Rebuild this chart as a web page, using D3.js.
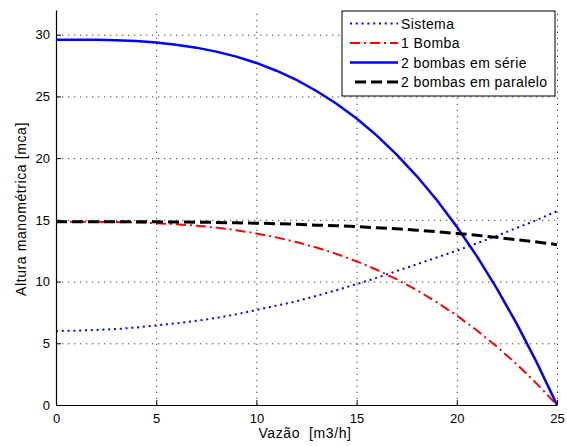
<!DOCTYPE html>
<html>
<head>
<meta charset="utf-8">
<script src="https://cdn.jsdelivr.net/npm/d3@7"></script>
<style>
body { margin: 0; background: #fff; }
text { font-family: "Liberation Sans", Arial, sans-serif; fill: #000; }
</style>
</head>
<body>
<script>
// vazao (m3/h)
var vazao = [0, 1, 2, 3, 4, 5, 6, 7, 8, 9, 10, 11, 12, 13, 14, 15, 16, 17, 18, 19, 20, 21, 22, 23, 24, 25];

// alturas (mca)
var sistema = [6.0, 6.02, 6.08, 6.15, 6.28, 6.45, 6.62, 6.82, 7.05, 7.35, 7.7, 8.05, 8.4, 8.85, 9.3, 9.8, 10.3, 10.85, 11.4, 11.95, 12.5, 13.1, 13.7, 14.35, 15.0, 15.7];
var umaBomba = [14.85, 14.85, 14.84, 14.82, 14.79, 14.73, 14.65, 14.53, 14.37, 14.16, 13.9, 13.58, 13.2, 12.76, 12.24, 11.64, 10.96, 10.19, 9.31, 8.33, 7.25, 6.05, 4.73, 3.29, 1.71, 0];
var serie = [29.6, 29.6, 29.58, 29.55, 29.48, 29.36, 29.19, 28.95, 28.63, 28.22, 27.71, 27.08, 26.33, 25.44, 24.4, 23.21, 21.84, 20.29, 18.55, 16.61, 14.44, 12.06, 9.43, 6.55, 3.41, 0];
var paralelo = [14.85, 14.85, 14.85, 14.85, 14.84, 14.84, 14.82, 14.81, 14.79, 14.76, 14.73, 14.69, 14.64, 14.57, 14.52, 14.45, 14.36, 14.27, 14.16, 14.04, 13.9, 13.75, 13.58, 13.39, 13.21, 12.99];

var xTicks = [0, 5, 10, 15, 20, 25];
var yTicks = [0, 5, 10, 15, 20, 25, 30];
var legendNames = ["Sistema", "1 Bomba", "2 bombas em série", "2 bombas em paralelo"];

var width = 567, height = 446;
var svg = d3.select("body").append("svg")
    .attr("width", width)
    .attr("height", height);

var x = d3.scaleLinear().domain([0, 25]).range([56, 557]);
var y = d3.scaleLinear().domain([0, 32]).range([405, 10]);

// grid pontilhado
svg.append("g")
    .attr("transform", "translate(0,405)")
    .call(d3.axisBottom(x).tickValues(xTicks).tickSize(-395).tickFormat(""))
    .call(function (g) { g.select(".domain").remove(); })
    .selectAll("line")
    .attr("stroke", "#444")
    .attr("stroke-dasharray", "1.3,4.7");

svg.append("g")
    .attr("transform", "translate(56,0)")
    .call(d3.axisLeft(y).tickValues(yTicks).tickSize(-501).tickFormat(""))
    .call(function (g) { g.select(".domain").remove(); })
    .selectAll("line")
    .attr("stroke", "#444")
    .attr("stroke-dasharray", "1.3,4.7");

// eixos (ticks para dentro)
var xAxis = svg.append("g")
    .attr("transform", "translate(0,405)")
    .call(d3.axisBottom(x).tickValues(xTicks).tickSizeInner(-5).tickSizeOuter(0).tickPadding(9));
var yAxis = svg.append("g")
    .attr("transform", "translate(56,0)")
    .call(d3.axisLeft(y).tickValues(yTicks).tickSizeInner(-5).tickSizeOuter(0).tickPadding(6));

[xAxis, yAxis].forEach(function (g) {
    g.select(".domain").attr("stroke", "#000").attr("stroke-width", 1.2);
    g.selectAll("line").attr("stroke", "#000");
    g.selectAll("text")
        .style("font-family", "'Liberation Sans', Arial, sans-serif")
        .style("font-size", "13px")
        .attr("fill", "#000");
});

// series
var series = [
    {values: sistema, color: "#0000ff", dash: "2,3.8", width: 2},
    {values: umaBomba, color: "#ff0000", dash: "10,4,2,4", width: 2},
    {values: serie, color: "#0000ff", dash: null, width: 2.5},
    {values: paralelo, color: "#000000", dash: "11,5", width: 3}
];

var line = d3.line()
    .x(function (d) { return x(d[0]); })
    .y(function (d) { return y(d[1]); });

series.forEach(function (s) {
    svg.append("path")
        .datum(vazao.map(function (q, i) { return [q, s.values[i]]; }))
        .attr("fill", "none")
        .attr("stroke", s.color)
        .attr("stroke-width", s.width)
        .attr("stroke-dasharray", s.dash)
        .attr("d", line);
});

// rotulos dos eixos
svg.append("text")
    .attr("x", 305)
    .attr("y", 438)
    .attr("text-anchor", "middle")
    .style("font-size", "14px")
    .style("letter-spacing", "0.6px")
    .style("white-space", "pre")
    .text("Vazão  [m3/h]");

svg.append("text")
    .attr("transform", "translate(26,209) rotate(-90)")
    .attr("text-anchor", "middle")
    .style("font-size", "14px")
    .style("letter-spacing", "0.6px")
    .text("Altura manométrica [mca]");

// legenda
var legend = svg.append("g").attr("transform", "translate(342,11)");
legend.append("rect")
    .attr("width", 213)
    .attr("height", 85)
    .attr("fill", "#fff")
    .attr("stroke", "#000");

legendNames.forEach(function (name, i) {
    var s = series[i];
    var ly = 12.5 + i * 19.5;
    legend.append("line")
        .attr("x1", i == 3 ? 13 : 8)
        .attr("x2", 56)
        .attr("y1", ly)
        .attr("y2", ly)
        .attr("stroke", s.color)
        .attr("stroke-width", s.width)
        .attr("stroke-dasharray", s.dash);
    legend.append("text")
        .attr("x", 59)
        .attr("y", ly + 5)
        .style("font-size", "14px")
        .style("letter-spacing", "0.4px")
        .text(name);
});
</script>
</body>
</html>
